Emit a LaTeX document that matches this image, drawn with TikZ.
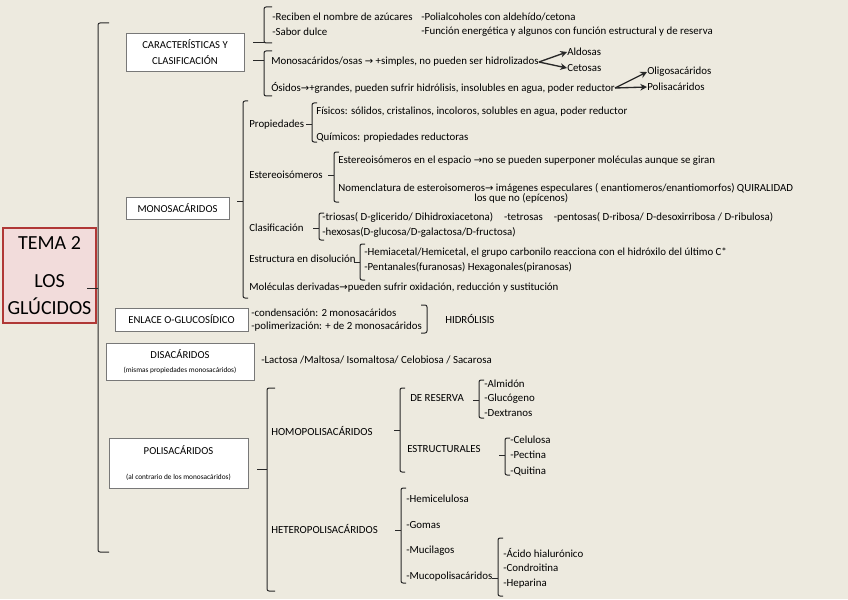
\documentclass[tikz,border=0pt]{standalone}
\usepackage{fontspec}
\setmainfont{Carlito}
\newfontfamily\flechafont{DejaVu Sans}
\usetikzlibrary{arrows.meta,positioning}
\definecolor{fondo}{RGB}{237,234,223}
\definecolor{rosa}{RGB}{242,220,219}
\definecolor{granate}{RGB}{176,56,54}
\definecolor{gris}{RGB}{120,120,120}
\definecolor{trazo}{RGB}{40,40,40}
\newcommand{\fl}{{\flechafont\fontsize{7.5}{8}\selectfont →}}
\newcommand{\chica}{\fontsize{5.5}{6.5}\selectfont}
% corchete: [gancho] x, arriba, abajo, punta
\newcommand{\corchete}[5][5]{%
  \draw[llave] (#2+#1,#3) -- (#2,#3) -- (#2,#4) -- (#2+#1,#4);
  \draw[llave] (#2,#5) -- (#2-6,#5);}

\begin{document}
\begin{tikzpicture}[
  x=0.75pt, y=-0.75pt,
  caja/.style={draw=gris, fill=white, align=center, inner sep=0pt, font=\fontsize{8}{9.6}\selectfont},
  tema/.style={draw=granate, line width=1.5pt, fill=rosa, align=center, inner sep=0pt, font=\fontsize{15}{20}\selectfont},
  txt/.style={anchor=west, inner sep=0pt, font=\fontsize{8.15}{9.6}\selectfont},
  llave/.style={draw=trazo, line width=0.75pt, rounded corners=1.5pt},
  flecha/.style={-{Stealth[length=5pt,width=5pt]}, draw=trazo, line width=1pt}
]
\fill[fondo] (0,0) rectangle (848,599);
\useasboundingbox (0,0) rectangle (848,599);

% tema y bloques
\node[tema, minimum width=69.75pt, minimum height=71.25pt] (tema) at (49.5,275.5) {TEMA 2\\[9pt]LOS\\GLÚCIDOS};
\corchete[11]{98}{23}{552}{288}
\draw[llave] (98,288) -- (87,288);
\node[caja, minimum width=88.5pt, minimum height=28.5pt] (carac) at (185,52) {CARACTERÍSTICAS Y\\[2.5pt]CLASIFICACIÓN};
\node[caja, minimum width=77.25pt, minimum height=16.5pt] (mono) at (177.5,208) {MONOSACÁRIDOS};
\node[caja, minimum width=99.75pt, minimum height=17.25pt] (enlace) at (181.5,319.5) {ENLACE O-GLUCOSÍDICO};
\node[caja, minimum width=111pt, minimum height=27.75pt] (disac) at (180,361.5) {DISACÁRIDOS\\[1pt]{\chica (mismas propiedades monosacáridos)}};
\node[caja, minimum width=104.25pt, minimum height=37.5pt] (polisac) at (178.5,463) {POLISACÁRIDOS\\[9pt]{\chica (al contrario de los monosacáridos)}};

% caracteristicas
\corchete[8]{264}{7}{43}{43}
\draw[llave] (264,43) -- (253,43);
\corchete[8]{264}{51}{96}{61}
\draw[llave] (264,61) -- (253,61);
\node[txt] (rec) at (272,17) {-Reciben el nombre de azúcares};
\node[txt] (polial) at (421,17) {-Polialcoholes con aldehído/cetona};
\node[txt] (sab) at (272,32) {-Sabor dulce};
\node[txt] (fun) at (421,32) {-Función energética y algunos con función estructural y de reserva};
\node[txt] (monosas) at (271,62) {Monosacáridos/osas \fl{} +simples, no pueden ser hidrolizados};
\node[txt] (aldosas) at (567,52) {Aldosas};
\node[txt] (cetosas) at (567,68) {Cetosas};
\node[txt] (osidos) at (271,88) {Ósidos\fl+grandes, pueden sufrir hidrólisis, insolubles en agua, poder reductor};
\node[txt] (oligo) at (647,72) {Oligosacáridos};
\node[txt] (polisa) at (647,87) {Polisacáridos};
\draw[flecha] (monosas.east) -- (aldosas.west);
\draw[flecha] (monosas.east) -- (cetosas.west);
\draw[flecha] (osidos.east) -- (oligo.west);
\draw[flecha] (osidos.east) -- (polisa.west);

% monosacaridos
\corchete{243}{101}{298}{201}
\node[txt] (prop) at (249,125) {Propiedades};
\corchete{312}{103}{142}{125}
\node[txt] (fis) at (316,112) {Físicos: sólidos, cristalinos, incoloros, solubles en agua, poder reductor};
\node[txt] (quim) at (316,138) {Químicos: propiedades reductoras};
\node[txt] (estereo) at (249,175) {Estereoisómeros};
\corchete{334}{152}{202}{175}
\node[txt] (espacio) at (338,161) {Estereoisómeros en el espacio \fl no se pueden superponer moléculas aunque se giran};
\node[txt] (nomen) at (338,188) {Nomenclatura de esteroisomeros\fl{} imágenes especulares ( enantiomeros/enantiomorfos) QUIRALIDAD};
\node[txt] (epi) at (474,198) {los que no (epícenos)};
\node[txt] (clasif) at (249,228) {Clasificación};
\corchete{319}{213}{240}{228}
\node[txt] (trio) at (322,217) {-triosas( D-glicerido/ Dihidroxiacetona)\quad-tetrosas\quad-pentosas( D-ribosa/ D-desoxirribosa / D-ribulosa)};
\node[txt] (hexo) at (322,232) {-hexosas(D-glucosa/D-galactosa/D-fructosa)};
\node[txt] (disol) at (249,259) {Estructura en disolución};
\corchete{360}{244}{280}{262}
\node[txt] (hemi) at (364,253) {-Hemiacetal/Hemicetal, el grupo carbonilo reacciona con el hidróxilo del último C*};
\node[txt] (penta) at (364,267) {-Pentanales(furanosas) Hexagonales(piranosas)};
\node[txt] (deriv) at (249,288) {Moléculas derivadas\fl pueden sufrir oxidación, reducción y sustitución};

% enlace y disacaridos
\node[txt] (conden) at (251,313) {-condensación: 2 monosacáridos};
\node[txt] (polim) at (251,327) {-polimerización: + de 2 monosacáridos};
\draw[llave] (421,305) -- (427,305) -- (427,333) -- (421,333);
\node[txt] (hidro) at (445,319) {HIDRÓLISIS};
\node[txt] (lacto) at (261,360) {-Lactosa /Maltosa/ Isomaltosa/ Celobiosa /\ Sacarosa};

% polisacaridos
\corchete[8]{267}{388}{591}{469}
\draw[llave] (267,469) -- (257,469);
\node[txt] (homo) at (271,431) {HOMOPOLISACÁRIDOS};
\corchete{400}{388}{472}{430}
\node[txt] (reserva) at (410,398) {DE RESERVA};
\corchete{479}{380}{418}{400}
\node[txt] (almidon) at (484,384) {-Almidón};
\node[txt] (gluco) at (484,399) {-Glucógeno};
\node[txt] (dextra) at (484,413) {-Dextranos};
\node[txt] (estruc) at (407,449) {ESTRUCTURALES};
\corchete{505}{438}{475}{455}
\node[txt] (celu) at (510,440) {-Celulosa};
\node[txt] (pecti) at (510,455) {-Pectina};
\node[txt] (quiti) at (510,471) {-Quitina};
\node[txt] (hetero) at (271,529) {HETEROPOLISACÁRIDOS};
\corchete{401}{488}{583}{530}
\node[txt] (hemic) at (406,499) {-Hemicelulosa};
\node[txt] (gomas) at (406,525) {-Gomas};
\node[txt] (muci) at (406,551) {-Mucilagos};
\node[txt] (mucop) at (406,577) {-Mucopolisacáridos};
\corchete{498}{538}{596}{578}
\node[txt] (acido) at (503,553) {-Ácido hialurónico};
\node[txt] (condro) at (503,568) {-Condroitina};
\node[txt] (hepa) at (503,584) {-Heparina};
\end{tikzpicture}
\end{document}
